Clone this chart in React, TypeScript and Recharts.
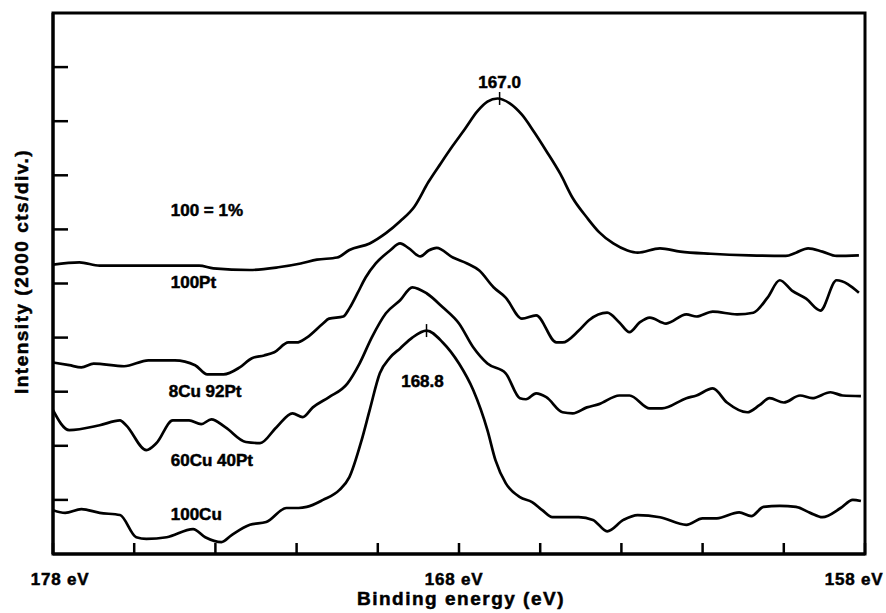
import React from 'react';
import {
  LineChart,
  Line,
  XAxis,
  YAxis,
  ReferenceArea,
  ReferenceDot,
  ReferenceLine,
  Label,
} from 'recharts';

const FONT = "'Liberation Sans', Arial, Helvetica, sans-serif";

// Axis ticks
const xTicks = [178, 176, 174, 172, 170, 168, 166, 164, 162, 160, 158];
const xTickLabels = [178, 168, 158];
const yTicks = [1, 2, 3, 4, 5, 6, 7, 8, 9];

// Series: 100Pt (top curve)
const pt100Energy = [178.0, 177.35, 176.85, 175.9, 174.4, 174.05, 173.15, 172.45, 171.9, 171.5, 171.0, 170.7, 170.2, 169.8, 169.45, 169.1, 168.75, 168.45, 168.15, 167.85, 167.55, 167.3, 167.05, 166.75, 166.45, 166.15, 165.85, 165.5, 165.2, 164.85, 164.55, 164.2, 163.85, 163.6, 163.05, 162.55, 161.8, 160.85, 159.95, 159.7, 159.4, 159.05, 158.7, 158.15];
const pt100Intensity = [5.35, 5.39, 5.33, 5.33, 5.33, 5.28, 5.25, 5.30, 5.37, 5.44, 5.48, 5.62, 5.74, 5.93, 6.15, 6.42, 6.88, 7.22, 7.55, 7.86, 8.18, 8.36, 8.42, 8.33, 8.12, 7.80, 7.45, 7.02, 6.58, 6.22, 5.95, 5.74, 5.61, 5.57, 5.65, 5.59, 5.55, 5.52, 5.51, 5.57, 5.65, 5.59, 5.51, 5.52];

// Series: 8Cu 92Pt
const cu8Energy = [178.0, 177.6, 177.3, 177.0, 176.25, 175.65, 175.0, 174.5, 174.2, 173.8, 173.4, 173.1, 172.8, 172.55, 172.2, 172.0, 171.75, 171.35, 171.2, 170.85, 170.7, 170.5, 170.3, 170.05, 169.7, 169.45, 169.25, 168.95, 168.75, 168.55, 168.15, 167.8, 167.5, 167.15, 166.85, 166.45, 166.1, 165.6, 165.45, 165.05, 164.8, 164.35, 164.05, 163.8, 163.55, 163.3, 162.9, 162.4, 162.15, 161.75, 161.15, 160.75, 160.4, 160.1, 159.8, 159.45, 159.1, 158.7, 158.15];
const cu8Intensity = [3.54, 3.49, 3.45, 3.52, 3.47, 3.58, 3.58, 3.49, 3.32, 3.32, 3.45, 3.62, 3.67, 3.73, 3.91, 3.91, 4.00, 4.26, 4.35, 4.39, 4.54, 4.82, 5.11, 5.37, 5.61, 5.74, 5.66, 5.50, 5.61, 5.66, 5.48, 5.37, 5.24, 4.93, 4.74, 4.35, 4.41, 3.91, 3.91, 4.13, 4.32, 4.46, 4.28, 4.10, 4.28, 4.37, 4.26, 4.43, 4.39, 4.48, 4.43, 4.46, 4.74, 5.06, 4.87, 4.72, 4.50, 5.06, 4.83];

// Series: 60Cu 40Pt
const cu60Energy = [178.0, 177.6, 176.85, 176.35, 176.2, 175.7, 175.45, 175.05, 174.65, 174.35, 174.1, 173.75, 173.25, 172.9, 172.5, 172.1, 171.85, 171.6, 171.2, 170.75, 170.45, 170.15, 169.8, 169.45, 169.15, 168.8, 168.4, 168.0, 167.65, 167.3, 166.85, 166.5, 166.35, 166.1, 165.85, 165.45, 165.2, 164.85, 164.55, 164.05, 163.8, 163.3, 163.0, 162.4, 162.15, 161.75, 161.4, 160.9, 160.6, 160.35, 160.0, 159.6, 159.3, 158.85, 158.55, 158.1];
const cu60Intensity = [2.66, 2.29, 2.38, 2.47, 2.38, 1.92, 2.05, 2.47, 2.47, 2.40, 2.49, 2.34, 2.07, 2.05, 2.34, 2.60, 2.53, 2.71, 2.90, 3.15, 3.52, 4.00, 4.45, 4.69, 4.93, 4.82, 4.56, 4.26, 3.82, 3.52, 3.34, 2.88, 2.86, 2.97, 2.90, 2.62, 2.60, 2.71, 2.77, 2.93, 2.93, 2.69, 2.69, 2.88, 2.93, 3.06, 2.80, 2.62, 2.75, 2.88, 2.80, 2.93, 2.88, 2.99, 2.93, 2.92];

// Series: 100Cu (bottom curve)
const cu100Energy = [178.0, 177.7, 177.3, 176.85, 176.35, 175.95, 175.7, 175.2, 174.55, 174.25, 173.85, 173.6, 173.15, 172.75, 172.25, 171.95, 171.75, 171.35, 170.95, 170.7, 170.4, 170.2, 169.95, 169.7, 169.45, 169.15, 168.8, 168.4, 168.0, 167.65, 167.3, 167.1, 166.85, 166.5, 166.2, 165.95, 165.7, 165.05, 164.7, 164.35, 163.95, 163.6, 163.05, 162.4, 162.0, 161.65, 161.1, 160.8, 160.5, 160.1, 159.7, 159.35, 159.05, 158.6, 158.3, 158.1];
const cu100Intensity = [0.81, 0.76, 0.83, 0.76, 0.72, 0.31, 0.28, 0.31, 0.46, 0.31, 0.22, 0.35, 0.54, 0.59, 0.85, 0.85, 0.87, 1.00, 1.18, 1.42, 2.10, 2.66, 3.34, 3.63, 3.80, 4.00, 4.13, 3.91, 3.52, 3.03, 2.29, 1.73, 1.31, 1.05, 0.96, 0.81, 0.68, 0.68, 0.63, 0.42, 0.63, 0.72, 0.68, 0.54, 0.66, 0.66, 0.77, 0.70, 0.87, 0.89, 0.87, 0.76, 0.68, 0.85, 1.00, 0.98];

// Peak markers and labels
const peakEnergies = [167.0, 168.8];
const peakIntensities = [8.42, 4.13];
const peakLabelTexts = ['167.0', '168.8'];
const peakLabelEnergies = [167.0, 168.9];
const peakLabelIntensities = [8.62, 3.08];

// Sample labels
const sampleLabelTexts = ['100 = 1%', '100Pt', '8Cu 92Pt', '60Cu 40Pt', '100Cu'];
const sampleLabelEnergies = [175.1, 175.1, 175.15, 175.1, 175.1];
const sampleLabelIntensities = [6.25, 4.91, 2.9, 1.62, 0.63];

const toPoints = (energy: number[], intensity: number[]) =>
  energy.map((e, i) => ({ e, v: intensity[i] }));

const series = [
  { name: '100Pt', data: toPoints(pt100Energy, pt100Intensity) },
  { name: '8Cu 92Pt', data: toPoints(cu8Energy, cu8Intensity) },
  { name: '60Cu 40Pt', data: toPoints(cu60Energy, cu60Intensity) },
  { name: '100Cu', data: toPoints(cu100Energy, cu100Intensity) },
];

const textStyle = {
  fontFamily: FONT,
  fontWeight: 700,
  fill: '#000',
  stroke: '#000',
  strokeWidth: 0.5,
};

// small horizontal nudges of the end labels, as in the original print
const xLabelShift: Record<number, number> = { 178: 7, 168: -5, 158: -11 };

const XTick = (props: any) => {
  const { x, y, payload } = props;
  if (!xTickLabels.includes(payload.value)) return <g />;
  return (
    <text
      x={x + (xLabelShift[payload.value] || 0)}
      y={y + 42}
      textAnchor="middle"
      fontSize={17}
      letterSpacing={0.8}
      style={textStyle}
    >
      {`${payload.value} eV`}
    </text>
  );
};

const EmptyTick = () => <g />;

export default function App() {
  return (
    <div style={{ width: 886, height: 613, background: '#fff' }}>
      <style>{'body{margin:0;background:#fff}'}</style>
      <LineChart
        width={886}
        height={613}
        margin={{ top: 13, right: 21, bottom: 58, left: 52 }}
      >
        <XAxis
          dataKey="e"
          type="number"
          domain={[158, 178]}
          reversed
          ticks={xTicks}
          interval={0}
          height={1}
          tickSize={-11}
          tickMargin={0}
          tickLine={{ stroke: '#000', strokeWidth: 2.5 }}
          axisLine={{ stroke: '#000', strokeWidth: 3 }}
          tick={<XTick />}
          allowDataOverflow
        >
          <Label
            content={(p: any) => {
              const vb = p.viewBox;
              return (
                <text
                  x={vb.x + vb.width / 2 + 2}
                  y={vb.y + 51}
                  textAnchor="middle"
                  fontSize={19}
                  letterSpacing={1.5}
                  style={textStyle}
                >
                  Binding energy (eV)
                </text>
              );
            }}
          />
        </XAxis>
        <YAxis
          type="number"
          domain={[0, 10]}
          ticks={yTicks}
          interval={0}
          width={1}
          tickSize={-15}
          tick={<EmptyTick />}
          tickLine={{ stroke: '#000', strokeWidth: 2.5 }}
          axisLine={{ stroke: '#000', strokeWidth: 3 }}
          allowDataOverflow
        >
          <Label
            content={(p: any) => {
              const vb = p.viewBox;
              const cx = vb.x - 24;
              const cy = vb.y + vb.height / 2 - 12;
              return (
                <text
                  x={cx}
                  y={cy}
                  transform={`rotate(-90 ${cx} ${cy})`}
                  textAnchor="middle"
                  fontSize={19}
                  letterSpacing={1.5}
                  style={textStyle}
                >
                  Intensity (2000 cts/div.)
                </text>
              );
            }}
          />
        </YAxis>
        <ReferenceArea
          x1={178}
          x2={158}
          y1={0}
          y2={10}
          fill="none"
          fillOpacity={0}
          stroke="#000"
          strokeWidth={3}
          ifOverflow="visible"
        />
        {series.map((s) => (
          <Line
            key={s.name}
            name={s.name}
            data={s.data}
            dataKey="v"
            type="monotone"
            stroke="#000"
            strokeWidth={2.7}
            dot={false}
            activeDot={false}
            isAnimationActive={false}
          />
        ))}
        {peakEnergies.map((e, i) => (
          <ReferenceLine
            key={`pk${i}`}
            segment={[
              { x: e, y: peakIntensities[i] - 0.12 },
              { x: e, y: peakIntensities[i] + 0.12 },
            ]}
            stroke="#000"
            strokeWidth={1.5}
            ifOverflow="visible"
          />
        ))}
        {peakLabelTexts.map((t, i) => (
          <ReferenceDot
            key={`pl${i}`}
            x={peakLabelEnergies[i]}
            y={peakLabelIntensities[i]}
            r={0}
            ifOverflow="visible"
            shape={(p: any) => (
              <text x={p.cx} y={p.cy} textAnchor="middle" fontSize={17} style={textStyle}>
                {t}
              </text>
            )}
          />
        ))}
        {sampleLabelTexts.map((t, i) => (
          <ReferenceDot
            key={`sl${i}`}
            x={sampleLabelEnergies[i]}
            y={sampleLabelIntensities[i]}
            r={0}
            ifOverflow="visible"
            shape={(p: any) => (
              <text x={p.cx} y={p.cy} textAnchor="start" fontSize={17} style={textStyle}>
                {t}
              </text>
            )}
          />
        ))}
      </LineChart>
    </div>
  );
}
